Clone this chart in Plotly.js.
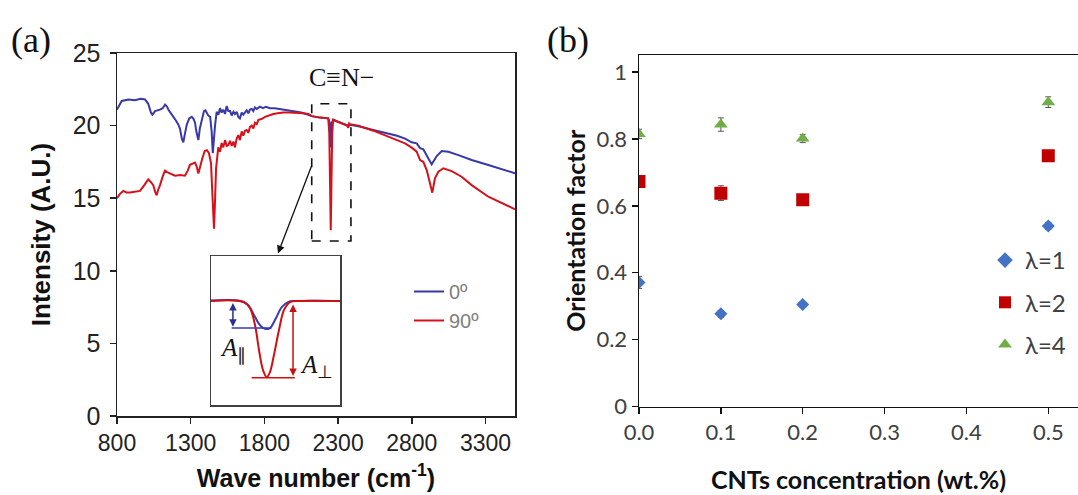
<!DOCTYPE html>
<html>
<head>
<meta charset="utf-8">
<script src="https://cdn.plot.ly/plotly-3.0.1.min.js"></script>
<style>html,body{margin:0;padding:0;background:#fff;}#chart{width:1078px;height:495px;}</style>
</head>
<body>
<div id="chart"></div>
<script>
// ---------- Panel (a): FTIR spectra ----------
const blueWave = [800,832,877,922,960,990,1012,1030,1040,1058,1092,1110,1126,1140,1148,1170,1193,1215,1227,1240,1250,1262,1273,1290,1307,1320,1329,1340,1352,1362,1374,1390,1400,1419,1432,1442,1450,1458,1465,1476,1488,1499,1510,1521,1533,1544,1555,1567,1578,1590,1600,1612,1623,1634,1646,1657,1668,1680,1691,1702,1714,1725,1736,1748,1770,1790,1810,1838,1870,1900,1928,1960,1990,2019,2050,2098,2121,2177,2233,2243,2250,2257,2267,2290,2324,2369,2381,2437,2539,2630,2700,2754,2799,2833,2856,2878,2901,2920,2935,2950,2969,3003,3048,3116,3206,3319,3432,3500];
const blueInt = [21.1,21.7,21.8,21.75,21.85,21.8,21.5,20.9,20.75,21.0,21.1,21.2,21.45,21.3,21.1,20.8,20.45,20.1,19.8,19.1,18.85,19.5,20.05,20.5,20.6,20.45,20.2,19.5,19.0,19.8,20.4,21.0,21.05,20.7,20.6,19.6,18.1,19.2,20.0,20.95,20.75,21.2,20.9,21.1,20.8,21.35,21.0,21.0,20.7,20.95,20.8,20.95,20.6,20.5,20.9,20.75,20.9,21.05,20.85,21.1,21.15,21.0,21.25,21.15,21.3,21.2,21.3,21.2,21.2,21.15,21.1,21.05,21.0,21.0,20.9,20.75,20.65,20.55,20.5,20.2,18.5,20.2,20.4,20.3,20.15,20.0,20.05,19.95,19.7,19.5,19.3,19.1,18.85,18.78,18.45,18.37,17.9,17.6,17.33,17.6,17.9,18.25,18.2,17.97,17.63,17.29,16.94,16.72];

const redWave = [800,820,843,865,888,920,956,985,1012,1030,1046,1060,1069,1080,1092,1110,1126,1140,1160,1193,1230,1261,1280,1295,1329,1340,1352,1365,1379,1395,1410,1424,1438,1446,1452,1458,1464,1472,1487,1499,1510,1521,1533,1544,1555,1567,1578,1590,1600,1612,1623,1634,1646,1657,1668,1680,1691,1702,1714,1725,1736,1748,1759,1780,1804,1830,1860,1890,1928,1970,2019,2060,2098,2121,2177,2233,2240,2246,2250,2254,2260,2267,2290,2324,2360,2369,2375,2381,2437,2539,2630,2700,2754,2799,2833,2856,2878,2901,2923,2939,2957,2980,3014,3070,3138,3206,3319,3432,3500];
const redInt = [15.0,15.3,15.5,15.4,15.4,15.45,15.5,15.9,16.3,16.1,15.9,15.4,15.2,15.6,15.9,16.5,16.9,16.8,16.7,16.55,16.6,16.55,16.9,17.3,17.45,17.2,16.7,17.3,17.75,18.25,18.3,18.1,17.4,15.5,13.8,12.9,14.5,17.05,18.5,18.2,18.8,18.5,19.0,18.6,18.66,18.95,18.6,18.9,18.5,19.1,19.35,19.0,19.6,19.3,19.65,19.7,19.5,19.9,20.0,19.8,20.2,20.1,20.4,20.45,20.6,20.7,20.8,20.85,20.9,20.9,20.9,20.85,20.8,20.65,20.55,20.5,19.5,15.5,12.8,15.5,19.5,20.4,20.3,20.15,20.0,19.85,20.15,20.1,20.0,19.65,19.3,19.0,18.78,18.48,18.2,17.63,17.51,16.94,15.9,15.38,16.37,16.83,17.06,16.87,16.48,15.9,15.1,14.58,14.24];

const seriesNamesA = ['0º','90º'];

// inset schematic (arbitrary 0-100 units)
const insetBlueX = [0,22.5,28.7,33.3,37.2,40.3,44.2,46.5,50.4,55,59.7,65.1,100];
const insetBlueY = [70.1,69.8,67.1,60.4,54.4,51.7,51,52.3,58.4,65.8,69.1,69.8,69.8];
const insetRedX = [0,25.6,30.2,34.1,37.2,40.3,43.2,45.7,48.8,52.7,56.6,61.2,69,100];
const insetRedY = [69.8,69.1,65.1,53.7,36.9,23.5,18.8,22.1,33.6,50.3,63.8,69.1,69.8,69.8];
const insetBlueRefX = [16,47], insetBlueRefY = [51.7,51.7];
const insetRedRefX = [31.5,65], insetRedRefY = [18.3,18.3];

// ---------- Panel (b): orientation factor ----------
const cntConc = [0.0,0.1,0.2,0.5];
const lambdaNames = ['λ=1','λ=2','λ=4'];
const f_l1 = [0.371,0.277,0.305,0.540];
const f_l2 = [0.673,0.638,0.618,0.750];
const f_l4 = [0.815,0.843,0.801,0.910];
const err_l1 = [0.018,0.010,0.008,0.010];
const err_l2 = [0.012,0.022,0.008,0.008];
const err_l4 = [0.014,0.020,0.012,0.016];

const blueC = '#3838a8', redC = '#d5121b';
const FA = 'Liberation Sans, Arial, sans-serif';
const FB = 'Lato, Open Sans, sans-serif';
const FS = 'Liberation Serif, Times New Roman, serif';

const traces = [
  {x: blueWave, y: blueInt, name: seriesNamesA[0], type:'scatter', mode:'lines', line:{color:blueC, width:2}, xaxis:'x', yaxis:'y', legend:'legend'},
  {x: redWave, y: redInt, name: seriesNamesA[1], type:'scatter', mode:'lines', line:{color:redC, width:2}, xaxis:'x', yaxis:'y', legend:'legend'},
  {x: insetBlueX, y: insetBlueY, type:'scatter', mode:'lines', line:{color:'#3a3ab4', width:2, shape:'spline'}, xaxis:'x3', yaxis:'y3', showlegend:false, hoverinfo:'skip'},
  {x: insetRedX, y: insetRedY, type:'scatter', mode:'lines', line:{color:'#d01010', width:2, shape:'spline'}, xaxis:'x3', yaxis:'y3', showlegend:false, hoverinfo:'skip'},
  {x: insetBlueRefX, y: insetBlueRefY, type:'scatter', mode:'lines', line:{color:'#3a3ab4', width:1.5}, xaxis:'x3', yaxis:'y3', showlegend:false, hoverinfo:'skip'},
  {x: insetRedRefX, y: insetRedRefY, type:'scatter', mode:'lines', line:{color:'#d01010', width:1.5}, xaxis:'x3', yaxis:'y3', showlegend:false, hoverinfo:'skip'},
  {x: cntConc, y: f_l1, name: lambdaNames[0], type:'scatter', mode:'markers', marker:{symbol:'diamond', size:10, color:'#4472c4'}, error_y:{type:'data', array:err_l1, color:'#595959', thickness:1, width:3}, xaxis:'x2', yaxis:'y2', legend:'legend2', legendgroup:'g1'},
  {x: cntConc, y: f_l2, name: lambdaNames[1], type:'scatter', mode:'markers', marker:{symbol:'square', size:13, color:'#c00000'}, error_y:{type:'data', array:err_l2, color:'#595959', thickness:1, width:3}, xaxis:'x2', yaxis:'y2', legend:'legend2', legendgroup:'g2'},
  {x: cntConc, y: f_l4, name: lambdaNames[2], type:'scatter', mode:'markers', marker:{symbol:'triangle-up', size:12, color:'#70ad47'}, error_y:{type:'data', array:err_l4, color:'#595959', thickness:1, width:3}, xaxis:'x2', yaxis:'y2', legend:'legend2', legendgroup:'g3'}
];

const W = 1078, H = 495;
const px = v => v / W, py = v => (H - v) / H;

const layout = {
  width: W, height: H,
  margin: {l:0, r:0, t:0, b:0},
  paper_bgcolor:'#fff', plot_bgcolor:'rgba(0,0,0,0)',
  showlegend: true,
  xaxis: {anchor:'y', domain:[px(117), px(515)], range:[800,3500], tick0:800, dtick:500, ticks:'outside', ticklen:6, tickwidth:1.5, tickcolor:'#222',
    showline:true, mirror:true, linecolor:'#222', linewidth:1.5, showgrid:false, zeroline:false,
    tickfont:{family:FA, size:23, color:'#222'},
    title:{text:'<b>Wave number (cm<sup>-1</sup>)</b>', font:{family:FA, size:25, color:'#111'}, standoff:14}},
  yaxis: {anchor:'x', domain:[py(416), py(53)], range:[0,25], dtick:5, ticks:'outside', ticklen:6, tickwidth:1.5, tickcolor:'#222',
    showline:true, mirror:true, linecolor:'#222', linewidth:1.5, showgrid:false, zeroline:false, ticklabelstandoff:4,
    tickfont:{family:FA, size:25, color:'#222'},
    title:{text:'<b>Intensity (A.U.)</b>', font:{family:FA, size:26, color:'#111'}, standoff:14}},
  xaxis3: {anchor:'y3', domain:[px(211), px(340)], range:[0,100], showline:true, mirror:true, linecolor:'#404040', linewidth:1.5,
    showticklabels:false, ticks:'', showgrid:false, zeroline:false, fixedrange:true},
  yaxis3: {anchor:'x3', domain:[py(405), py(256)], range:[0,100], showline:true, mirror:true, linecolor:'#404040', linewidth:1.5,
    showticklabels:false, ticks:'', showgrid:false, zeroline:false, fixedrange:true},
  xaxis2: {anchor:'y2', domain:[px(639), 1], range:[0, 0.5363], tick0:0, dtick:0.1, tickformat:'.1f', ticks:'outside', ticklen:6, tickwidth:1.5, tickcolor:'#111',
    showline:true, mirror:true, linecolor:'#111', linewidth:1.5, showgrid:false, zeroline:false,
    tickfont:{family:FB, size:22, color:'#404040'},
    title:{text:'<b>CNTs concentration (wt.%)</b>', font:{family:FB, size:25, color:'#111'}, standoff:27}},
  yaxis2: {anchor:'x2', domain:[py(406.5), py(55)], range:[0, 1.051], dtick:0.2, ticks:'outside', ticklen:6, tickwidth:1.5, tickcolor:'#111',
    showline:true, mirror:false, linecolor:'#111', linewidth:1.5, showgrid:false, zeroline:false,
    tickfont:{family:FB, size:22, color:'#404040'},
    title:{text:'<b>Orientation factor</b>', font:{family:FB, size:25, color:'#111'}, standoff:3}},
  legend: {x: px(409), y: py(272), xanchor:'left', yanchor:'top', bgcolor:'rgba(0,0,0,0)',
    font:{family:FA, size:20, color:'#808080'}, itemwidth:30, tracegroupgap:6},
  legend2: {x: px(985), y: py(238), xanchor:'left', yanchor:'top', bgcolor:'rgba(0,0,0,0)',
    font:{family:FB, size:24, color:'#404040'}, itemsizing:'constant', tracegroupgap:8, traceorder:'grouped'},
  shapes: [
    {type:'rect', xref:'x', yref:'y', x0:2121, x1:2387, y0:12.05, y1:21.5, line:{color:'#111', width:1.6, dash:'dash'}}
  ],
  annotations: [
    {text:'(a)', xref:'paper', yref:'paper', x:px(9), y:py(40), xanchor:'left', yanchor:'middle', showarrow:false, font:{family:FS, size:36, color:'#111'}},
    {text:'(b)', xref:'paper', yref:'paper', x:px(545), y:py(40), xanchor:'left', yanchor:'middle', showarrow:false, font:{family:FS, size:36, color:'#111'}},
    {text:'C≡N−', xref:'x', yref:'y', x:2320, y:23.3, showarrow:false, font:{family:FS, size:26, color:'#111'}},
    {text:'', xref:'x', yref:'y', axref:'x', ayref:'y', x:1892, y:11.2, ax:2123, ay:17.3, showarrow:true, arrowhead:2, arrowsize:1.2, arrowwidth:1.3, arrowcolor:'#111'},
    {text:'', xref:'x3', yref:'y3', axref:'x3', ayref:'y3', x:17, y:52.5, ax:17, ay:69.5, showarrow:true, arrowhead:2, arrowside:'end+start', arrowsize:1, arrowwidth:1.5, arrowcolor:'#2e2e8f'},
    {text:'', xref:'x3', yref:'y3', axref:'x3', ayref:'y3', x:63.6, y:19.5, ax:63.6, ay:68.5, showarrow:true, arrowhead:2, arrowside:'end+start', arrowsize:1, arrowwidth:1.5, arrowcolor:'#c81010'},
    {text:'<i>A</i><sub>∥</sub>', xref:'x3', yref:'y3', x:17, y:37, showarrow:false, font:{family:FS, size:25, color:'#111'}},
    {text:'<i>A</i><sub>⊥</sub>', xref:'x3', yref:'y3', x:82, y:26, showarrow:false, font:{family:FS, size:25, color:'#111'}}
  ]
};

Plotly.newPlot('chart', traces, layout, {staticPlot:true, displayModeBar:false});
</script>
</body>
</html>
